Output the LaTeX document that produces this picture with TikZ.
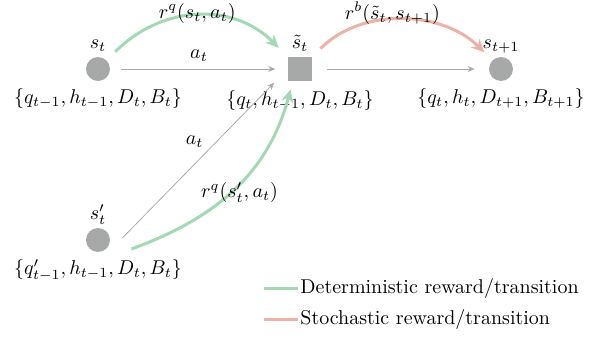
\documentclass[tikz,border=0pt]{standalone}
\usepackage{amsmath}
\usepackage{amssymb}
\usetikzlibrary{arrows.meta,positioning}

\definecolor{stategray}{RGB}{166,169,168}
\definecolor{detgreen}{RGB}{164,216,181}
\definecolor{stored}{RGB}{236,177,167}
\definecolor{actgray}{RGB}{170,170,170}

\begin{document}
\begin{tikzpicture}[x=0.0176cm, y=-0.0176cm,
    state/.style={circle, fill=stategray, minimum size=12pt, inner sep=0pt},
    post/.style={rectangle, fill=stategray, minimum size=12pt, inner sep=0pt},
    statename/.style={text depth=2.5pt},
    act/.style={-{Stealth[length=3.5pt,width=3pt]}, actgray, line width=0.5pt},
    det/.style={-{Stealth[length=6.5pt,width=6pt]}, detgreen, line width=1.5pt},
    sto/.style={-{Stealth[length=6.5pt,width=6pt]}, stored, line width=1.5pt},
    lab/.style={text=black},
    legline/.style={line width=1.5pt}
]
\useasboundingbox (0,0) rectangle (599,337);

% States
\node[state] (st) at (98,69) {};
\node[post] (stilde) at (300,69) {};
\node[state] (snext) at (501,69) {};
\node[state] (sprime) at (98,240) {};

% Names and contents
\node[statename, above=-2pt of st] (stname) {$s_t$};
\node[statename, above=-2pt of stilde] (stildename) {$\tilde{s}_t$};
\node[statename, above=-2pt of snext] (snextname) {$s_{t+1}$};
\node[statename, above=-2pt of sprime] (sprimename) {$s'_t$};
\node[below=0pt of st] (stinfo) {$\{q_{t-1},h_{t-1},D_t,B_t\}$};
\node[below=1pt of stilde] (stildeinfo) {$\{q_t,h_{t-1},D_t,B_t\}$};
\node[below=0pt of snext] (snextinfo) {$\{q_t,h_t,D_{t+1},B_{t+1}\}$};
\node[below=0pt of sprime] (sprimeinfo) {$\{q'_{t-1},h_{t-1},D_t,B_t\}$};

% Actions
\draw[act, shorten <=5.5pt, shorten >=6.2pt] (st) -- node[lab, midway, above] {$a_t$} (stilde);
\draw[act, shorten <=7.5pt, shorten >=7pt] (stilde) -- (snext);
\draw[act, line width=0.4pt, shorten >=9.7pt] ([xshift=6pt,yshift=1pt]sprime.east) -- node[lab, pos=0.57, left=3pt] {$a_t$} (stilde.west);

% Rewards
\draw[det, shorten <=6pt, shorten >=6.3pt] (st.45) to[out=45, in=135, looseness=1.1] node[lab, midway, yshift=2pt] {$r^q(s_t,a_t)$} (stilde.north west);
\draw[det] ([shift={(10.5pt,-4.5pt)}]sprime.east) to[out=20, in=-105] node[lab, midway, xshift=3pt, yshift=-1.5pt] {$r^q(s'_t,a_t)$} ([xshift=1.5pt,yshift=-4pt]stilde.south west);
\draw[sto, shorten <=5.7pt, shorten >=5.6pt] (stilde.north east) to[out=45, in=135] node[lab, midway, xshift=-5pt, yshift=4pt] {$r^b(\tilde{s}_t,s_{t+1})$} (snext.135);

% Legend
\node[anchor=west, inner sep=0pt] (legdet) at (300,288) {Deterministic reward/transition};
\node[anchor=west, inner sep=0pt] (legsto) at (300,319) {Stochastic reward/transition};
\coordinate (detstart) at (264,288);
\coordinate (stostart) at (264,319);
\draw[legline, detgreen, shorten >=1pt] (detstart) -- (legdet.west);
\draw[legline, stored, shorten >=1pt] (stostart) -- (legsto.west);
\end{tikzpicture}
\end{document}
